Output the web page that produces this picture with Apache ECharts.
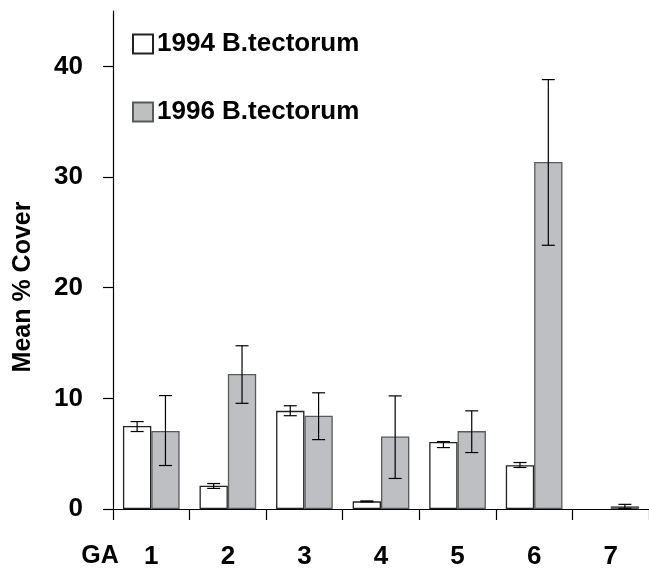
<!DOCTYPE html>
<html>
<head>
<meta charset="utf-8">
<script src="https://cdn.jsdelivr.net/npm/echarts@6/dist/echarts.min.js"></script>
<style>
  html, body { margin: 0; padding: 0; background: #fff; }
  #chart { width: 649px; height: 570px; }
</style>
</head>
<body>
<div id="chart"></div>
<script>
// data
const categories = ['1', '2', '3', '4', '5', '6', '7']
const yTicks = [0, 10, 20, 30, 40]
const cover1994 = [7.5, 2.1, 8.87, 0.69, 6.05, 3.96, null]
const cover1994Low = [7.0, 1.86, 8.43, 0.65, 5.55, 3.75, null]
const cover1994High = [7.9, 2.3, 9.33, 0.73, 6.09, 4.2, null]
const cover1996 = [7.05, 12.2, 8.43, 6.56, 7.04, 31.36, 0.24]
const cover1996Low = [3.93, 9.55, 6.27, 2.76, 5.1, 23.83, 0.06]
const cover1996High = [10.25, 14.75, 10.5, 10.22, 8.87, 38.8, 0.42]

const BAR_FRACTION = 0.37
const FONT = '"Liberation Sans", Arial, sans-serif'

function errData(low, high) {
  return categories.map((c, i) => low[i] == null ? [i, '-', '-'] : [i, low[i], high[i]])
}

function errRender(side) {
  return (params, api) => {
    if (isNaN(api.value(1))) return
    const bw = api.size([1, 0])[0] * BAR_FRACTION
    const lo = api.coord([api.value(0), api.value(1)])
    const hi = api.coord([api.value(0), api.value(2)])
    const x = lo[0] + side * bw / 2
    const cap = 6.5
    const st = { stroke: '#000', lineWidth: 1.2 }
    return {
      type: 'group',
      children: [
        { type: 'line', shape: { x1: x, y1: lo[1], x2: x, y2: hi[1] }, style: st },
        { type: 'line', shape: { x1: x - cap, y1: lo[1], x2: x + cap, y2: lo[1] }, style: st },
        { type: 'line', shape: { x1: x - cap, y1: hi[1], x2: x + cap, y2: hi[1] }, style: st }
      ]
    }
  }
}

const chart = echarts.init(document.getElementById('chart'))
chart.setOption({
  animation: false,
  grid: { left: 113, right: 0, top: 11, bottom: 59 },
  legend: {
    orient: 'vertical',
    left: 132,
    top: 29,
    padding: 0,
    itemGap: 38,
    itemWidth: 20,
    itemHeight: 19,
    icon: 'rect',
    textStyle: { fontFamily: FONT, fontSize: 26, fontWeight: 'bold', color: '#000', lineHeight: 30, padding: [0, 0, 0, -1] },
    data: ['1994 B.tectorum', '1996 B.tectorum']
  },
  xAxis: {
    type: 'category',
    data: categories,
    boundaryGap: true,
    axisLine: { lineStyle: { color: '#000', width: 1.2 } },
    axisTick: { show: true, alignWithLabel: false, interval: 0, length: 11, lineStyle: { color: '#000', width: 1.2 } },
    axisLabel: { margin: 35, fontFamily: FONT, fontSize: 26, fontWeight: 'bold', color: '#000' }
  },
  yAxis: {
    type: 'value',
    min: 0,
    max: 45,
    interval: 10,
    splitLine: { show: false },
    axisLine: { show: true, lineStyle: { color: '#000', width: 1.2 } },
    axisTick: { show: true, length: 10, customValues: yTicks, lineStyle: { color: '#000', width: 1.2 } },
    axisLabel: { margin: 30, customValues: yTicks, fontFamily: FONT, fontSize: 26, fontWeight: 'bold', color: '#000' }
  },
  graphic: [
    {
      type: 'text', x: 23, y: 287, rotation: Math.PI / 2,
      style: { text: 'Mean % Cover', fontFamily: FONT, fontSize: 25, fontWeight: 'bold', fill: '#000', align: 'center', verticalAlign: 'middle' }
    },
    {
      type: 'text', x: 100, y: 556,
      style: { text: 'GA', fontFamily: FONT, fontSize: 25, fontWeight: 'bold', fill: '#000', align: 'center', verticalAlign: 'middle' }
    }
  ],
  series: [
    {
      name: '1994 B.tectorum',
      type: 'bar',
      data: cover1994,
      barWidth: (BAR_FRACTION * 100) + '%',
      barGap: '0%',
      itemStyle: { color: '#fff', borderColor: '#222', borderWidth: 1.3 }
    },
    {
      name: '1996 B.tectorum',
      type: 'bar',
      data: cover1996,
      barWidth: (BAR_FRACTION * 100) + '%',
      barGap: '0%',
      itemStyle: { color: '#bebfc3', borderColor: '#5a5a5a', borderWidth: 1.3 }
    },
    {
      type: 'custom',
      data: errData(cover1994Low, cover1994High),
      encode: { x: 0, y: [1, 2] },
      renderItem: errRender(-1),
      z: 5
    },
    {
      type: 'custom',
      data: errData(cover1996Low, cover1996High),
      encode: { x: 0, y: [1, 2] },
      renderItem: errRender(1),
      z: 5
    }
  ]
})
</script>
</body>
</html>
